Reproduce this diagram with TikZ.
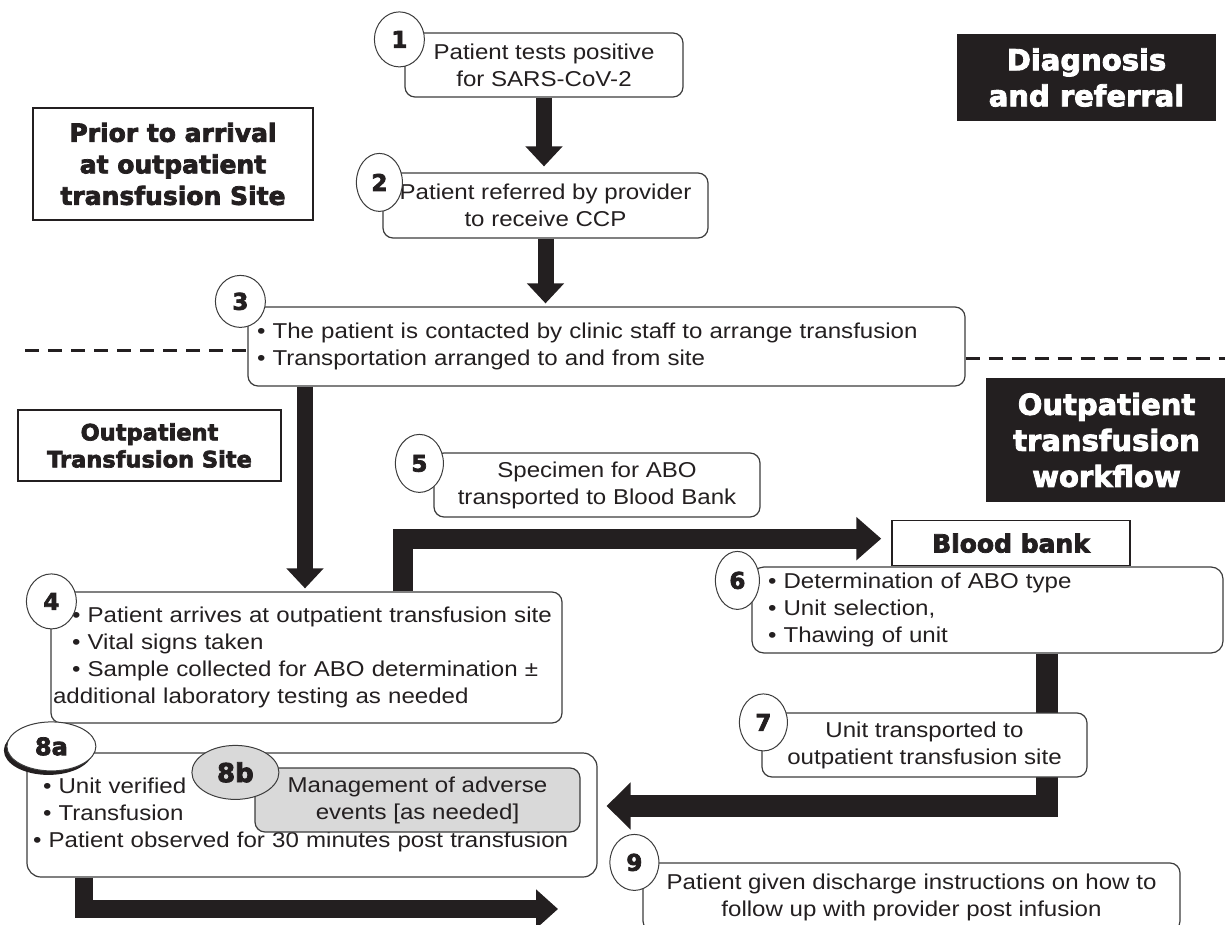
\documentclass[tikz,border=0pt]{standalone}
\usepackage{fontspec}
\setmainfont[FakeStretch=1.12]{Liberation Sans}
\newfontfamily\headfont[BoldFont={DejaVu Sans Bold}, BoldFeatures={FakeBold=3}]{DejaVu Sans}
\usetikzlibrary{arrows.meta,shapes.geometric,positioning,backgrounds,shadows}

\definecolor{ink}{HTML}{231F20}
\definecolor{edge}{HTML}{3C3C3C}
\definecolor{panel}{HTML}{D9D9D9}

\newcommand{\bodyfont}{\fontsize{21.5}{27}\selectfont}
\newcommand{\numfont}{\headfont\bfseries\fontsize{23}{26}\selectfont}
\newcommand{\bighead}{\headfont\bfseries\fontsize{29}{36}\selectfont}

\begin{document}
\begin{tikzpicture}[x=1pt, y=-1pt,
    stepbox/.style={rectangle, draw=edge, fill=white, line width=1.2pt, rounded corners=10pt,
                    inner sep=0pt, text=ink, font=\bodyfont},
    listbox/.style={stepbox, align=left},
    numcirc/.style={ellipse, draw=edge, fill=white, line width=1pt, inner sep=0pt, text=ink, font=\numfont},
    darkbox/.style={rectangle, fill=ink, text=white, inner sep=0pt, align=center, font=\bighead},
    headbox/.style={rectangle, draw=ink, line width=1.5pt, fill=white, text=ink, inner sep=0pt, align=center},
    line/.style={draw=ink, line width=16pt, line join=miter, -{Triangle[width=36pt,length=20pt]}},
    wideline/.style={line, line width=20pt, -{Triangle[width=42pt,length=25pt]}},
    bigline/.style={line, line width=22pt, -{Triangle[width=46pt,length=24pt]}},
    lowline/.style={line, line width=18pt, -{Triangle[width=38pt,length=22pt]}},
    divider/.style={draw=ink, line width=3pt, dash pattern=on 14pt off 9pt}
]
\useasboundingbox (0,0) rectangle (1225,925);

% Diagnosis and referral
\node [stepbox, minimum width=278pt, minimum height=64pt, align=center] (box1) at (544,65) {Patient tests positive\\for SARS-CoV-2};
\node [numcirc, minimum width=50pt, minimum height=55pt] (n1) at ([xshift=-5pt,yshift=-7pt]box1.north west) {1};

\node [stepbox, minimum width=325pt, minimum height=65pt, align=center] (box2) at (545.5,205.5) {Patient referred by provider\\to receive CCP};
\node [numcirc, minimum width=46pt, minimum height=58pt] (n2) at ([xshift=-3pt,yshift=-10pt]box2.north west) {2};

\node [listbox, minimum width=717pt, minimum height=79pt, text width=699pt, inner xsep=9pt] (box3) at (606.5,346.5)
  {\textbullet\ The patient is contacted by clinic staff to arrange transfusion\\\textbullet\ Transportation arranged to and from site};
\node [numcirc, minimum width=50pt, minimum height=52pt] (n3) at ([xshift=-7pt,yshift=5pt]box3.north west) {3};

% Outpatient transfusion site
\node [listbox, minimum width=511pt, minimum height=131pt, text width=507pt, inner xsep=2pt] (box4) at (306.5,657.5)
  {\hspace*{19pt}\textbullet\ Patient arrives at outpatient transfusion site\\
   \hspace*{19pt}\textbullet\ Vital signs taken\\
   \hspace*{19pt}\textbullet\ Sample collected for ABO determination \textpm\\
   additional laboratory testing as needed};
\node [numcirc, minimum width=50pt, minimum height=55pt] (n4) at ([xshift=1pt,yshift=-10pt]box4.north west) {4};

\node [stepbox, minimum width=326pt, minimum height=64pt, align=center] (box5) at (597,485) {Specimen for ABO\\transported to Blood Bank};
\node [numcirc, minimum width=48pt, minimum height=58pt] (n5) at ([xshift=-14pt,yshift=-11pt]box5.north west) {5};

% Blood bank
\node [listbox, minimum width=471pt, minimum height=86pt, text width=439pt, inner xsep=16pt, rounded corners=12pt] (box6) at (987.5,610)
  {\textbullet\ Determination of ABO type\\\textbullet\ Unit selection,\\\textbullet\ Thawing of unit};
\node [headbox, minimum width=238pt, minimum height=45pt, font=\headfont\bfseries\fontsize{25}{30}\selectfont,
       above=0pt of box6.north, xshift=23.5pt] (bbank) {Blood bank};
\node [numcirc, minimum width=44pt, minimum height=58pt] (n6) at ([xshift=-14pt,yshift=-14pt]box6.north west) {6};

\node [stepbox, minimum width=325pt, minimum height=64pt, align=center] (box7) at (924.5,745) {Unit transported to\\outpatient transfusion site};
\node [numcirc, minimum width=48pt, minimum height=57pt] (n7) at ([xshift=2pt,yshift=-10pt]box7.north west) {7};

% Transfusion and adverse events
\node [listbox, minimum width=570pt, minimum height=124pt, text width=558pt, inner xsep=6pt, rounded corners=14pt] (box8a) at (312,815)
  {\hspace*{10pt}\textbullet\ Unit verified\\
   \hspace*{10pt}\textbullet\ Transfusion\\
   \textbullet\ Patient observed for 30 minutes post transfusion};
\node [numcirc, minimum width=89pt, minimum height=49pt, font=\headfont\bfseries\fontsize{24}{26}\selectfont,
       drop shadow={shadow xshift=-3pt, shadow yshift=-4pt, fill=ink, opacity=1}] (n8a) at ([xshift=25pt,yshift=6pt]box8a.north west) {8a};

\node [stepbox, fill=panel, minimum width=325pt, minimum height=64pt, align=center] (box8b) at (417.5,800) {Management of adverse\\events [as needed]};
\node [numcirc, fill=panel, minimum width=87pt, minimum height=54pt, font=\headfont\bfseries\fontsize{26}{28}\selectfont] (n8b) at ([xshift=-19pt,yshift=-5pt]box8b.north west) {8b};

% Discharge
\node [stepbox, minimum width=537pt, minimum height=68pt, align=center] (box9) at (911.5,897) {Patient given discharge instructions on how to\\follow up with provider post infusion};
\node [numcirc, minimum width=49pt, minimum height=56pt] (n9) at ([xshift=-8pt]box9.north west) {9};

% Section labels
\node [darkbox, minimum width=259pt, minimum height=87pt] (diag) at (1086.5,77.5) {Diagnosis\\and referral};
\node [headbox, minimum width=280pt, minimum height=112pt, font=\headfont\bfseries\fontsize{25}{31.5}\selectfont] (prior) at (173,164) {Prior to arrival\\at outpatient\\transfusion Site};
\node [darkbox, minimum width=241pt, minimum height=124pt] (workflow) at (1106.5,440) {Outpatient\\transfusion\\workflow};
\node [headbox, minimum width=263pt, minimum height=71pt, font=\headfont\bfseries\fontsize{22.5}{27}\selectfont] (site) at (149.5,445.5) {Outpatient\\Transfusion Site};

\coordinate (dashL) at (25,350);
\coordinate (dashR) at (1225,358);
\coordinate (out8) at (558,909);

% Connect the steps
\begin{scope}[on background layer]
\draw [divider] (dashL) -- (dashL -| box3.west);
\draw [divider] (box3.east |- dashR) -- (dashR);
\draw [line, shorten >=6pt] (box1.south) -- (box1.south |- box2.north);
\draw [line, shorten >=3pt] (box2.south) -- (box2.south |- box3.north);
\draw [line, shorten >=3pt] ([xshift=-301.5pt]box3.south) -- ([xshift=-301.5pt]box3.south |- box4.north);
\draw [wideline] ([xshift=96.5pt]box4.north) |- ([xshift=-10pt,yshift=4.5pt]bbank.west);
\draw [bigline] ([xshift=59.5pt]box6.south) |- ([xshift=9pt,yshift=9pt]box8a.east);
\draw [lowline] ([xshift=-228pt]box8a.south) |- (out8);
\end{scope}

\end{tikzpicture}
\end{document}
